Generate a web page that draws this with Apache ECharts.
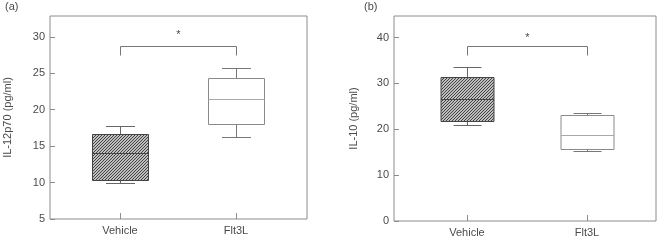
<!DOCTYPE html>
<html><head><meta charset="utf-8">
<script src="https://cdn.jsdelivr.net/npm/echarts@6/dist/echarts.min.js"></script>
<style>html,body{margin:0;padding:0;background:#fff}#c{width:661px;height:243px}</style>
</head><body><div id="c"></div>
<script>
// ---------- data ----------
const categories = ['Vehicle', 'Flt3L'];
// box stats: [min, Q1, median, Q3, max]
const il12Vehicle = [9.9, 10.4, 14.0, 16.7, 17.7];
const il12Flt3L   = [16.2, 18.0, 21.4, 24.3, 25.7];
const il10Vehicle = [21.0, 21.8, 26.7, 31.3, 33.6];
const il10Flt3L   = [15.2, 15.6, 18.8, 23.1, 23.6];
// y axis ranges and tick interval
const il12Range = [5, 32.85];
const il12Interval = 5;
const il10Range = [0, 44.7];
const il10Interval = 10;
// significance bracket: [leg bottom, bar, star]
const il12Bracket = [27.5, 28.8, 30.2];
const il10Bracket = [36.1, 38.2, 40.0];
const panelLabels = ['(a)', '(b)'];
const axisTitles = ['IL-12p70 (pg/ml)', 'IL-10 (pg/ml)'];

// ---------- styling ----------
const FONT = 'Liberation Sans, Arial, Helvetica, sans-serif';
const TXT = '#4a4a4a';
const FRAME = '#8c8c8c';

function makeHatch() {
  const n = 3;
  const cv = document.createElement('canvas');
  cv.width = n; cv.height = n;
  const ctx = cv.getContext('2d');
  ctx.fillStyle = '#f4f4f4';
  ctx.fillRect(0, 0, n, n);
  ctx.strokeStyle = '#3a3a3a';
  ctx.lineWidth = 1.1;
  ctx.beginPath();
  ctx.moveTo(-1, n + 1); ctx.lineTo(n + 1, -1);
  ctx.moveTo(-1, 1); ctx.lineTo(1, -1);
  ctx.moveTo(n - 1, n + 1); ctx.lineTo(n + 1, n - 1);
  ctx.stroke();
  return cv;
}
const hatch = makeHatch();

const boxStyles = [
  { fill: { image: hatch, repeat: 'repeat' }, stroke: '#444', median: '#444', whisker: '#666' },
  { fill: '#fff', stroke: '#8a8a8a', median: '#a8a8a8', whisker: '#777' }
];

function crisp(v) { return Math.round(v) + 0.5; }

function makeBoxRender(boxFrac) {
  return function (params, api) {
    const x = api.value(0);
    const mn = api.value(1), q1 = api.value(2), md = api.value(3), q3 = api.value(4), mx = api.value(5);
    const band = api.size([1, 0])[0];
    const bw = Math.round(band * boxFrac);
    const cw = Math.round(bw / 2);
    const cx = Math.round(api.coord([x, md])[0]);
    const Y = v => crisp(api.coord([x, v])[1]);
    const st = boxStyles[params.dataIndex];
    const yMn = Y(mn), yQ1 = Y(q1), yMd = Y(md), yQ3 = Y(q3), yMx = Y(mx);
    const L = cx - bw / 2, R = cx + bw / 2;
    const lineSt = { stroke: st.whisker, lineWidth: 1 };
    return {
      type: 'group',
      children: [
        { type: 'line', shape: { x1: cx + 0.5, y1: yMx, x2: cx + 0.5, y2: yQ3 }, style: lineSt },
        { type: 'line', shape: { x1: cx + 0.5, y1: yQ1, x2: cx + 0.5, y2: yMn }, style: lineSt },
        { type: 'line', shape: { x1: cx - cw / 2, y1: yMx, x2: cx + cw / 2 + 1, y2: yMx }, style: lineSt },
        { type: 'line', shape: { x1: cx - cw / 2, y1: yMn, x2: cx + cw / 2 + 1, y2: yMn }, style: lineSt },
        { type: 'rect', shape: { x: L + 0.5, y: yQ3, width: bw, height: yQ1 - yQ3 },
          style: { fill: st.fill, stroke: st.stroke, lineWidth: 1 } },
        { type: 'line', shape: { x1: L + 0.5, y1: yMd, x2: R + 0.5, y2: yMd },
          style: { stroke: st.median, lineWidth: 1 } }
      ]
    };
  };
}

function bracketRender(params, api) {
  const leg = api.value(2), bar = api.value(3), star = api.value(4);
  const p0 = api.coord([api.value(0), bar]);
  const p1 = api.coord([api.value(1), bar]);
  const yLeg = crisp(api.coord([api.value(0), leg])[1]);
  const yBar = crisp(p0[1]);
  const ys = api.coord([api.value(0), star])[1];
  const x0 = Math.round(p0[0]) + 0.5, x1 = Math.round(p1[0]) + 0.5;
  return {
    type: 'group',
    children: [
      { type: 'polyline', shape: { points: [[x0, yLeg], [x0, yBar], [x1, yBar], [x1, yLeg]] },
        style: { stroke: '#777', lineWidth: 1, fill: null } },
      { type: 'text', x: (x0 + x1) / 2, y: ys,
        style: { text: '*', fill: TXT, font: '11px ' + FONT, align: 'center', verticalAlign: 'middle' } }
    ]
  };
}

// panel geometry: frame rect, and data grid whose band centers match the reference
const panels = [
  { frame: { left: 50, top: 16, width: 257, height: 203 },
    data: { left: 62, top: 16, width: 232, height: 203 }, offset: 12, nameGap: 37,
    range: il12Range, interval: il12Interval, boxes: [il12Vehicle, il12Flt3L], bracket: il12Bracket, boxFrac: 0.483 },
  { frame: { left: 394, top: 16, width: 262, height: 205 },
    data: { left: 407, top: 16, width: 240, height: 205 }, offset: 13, nameGap: 35,
    range: il10Range, interval: il10Interval, boxes: [il10Vehicle, il10Flt3L], bracket: il10Bracket, boxFrac: 0.443 }
];

const grid = [], xAxis = [], yAxis = [], series = [], title = [];
panels.forEach((p, i) => {
  const gF = grid.length;
  grid.push(Object.assign({ show: true, borderColor: FRAME, borderWidth: 1, backgroundColor: 'transparent' }, p.frame));
  xAxis.push({ gridIndex: gF, type: 'value', show: false });
  yAxis.push({ gridIndex: gF, type: 'value', show: false });
  const gD = grid.length;
  grid.push(Object.assign({ show: false }, p.data));
  xAxis.push({
    gridIndex: gD, type: 'category', data: categories, boundaryGap: true,
    axisLine: { show: false },
    axisTick: { show: true, inside: true, length: 6, alignWithLabel: true, lineStyle: { color: FRAME } },
    axisLabel: { margin: 6, fontSize: 11, color: TXT, fontFamily: FONT },
    splitLine: { show: false }
  });
  yAxis.push({
    gridIndex: gD, type: 'value', min: p.range[0], max: p.range[1], interval: p.interval,
    offset: p.offset,
    axisLine: { show: false },
    axisTick: { show: true, inside: true, length: 5, lineStyle: { color: FRAME } },
    axisLabel: { margin: 5, fontSize: 11, color: TXT, fontFamily: FONT, showMaxLabel: false },
    splitLine: { show: false },
    name: axisTitles[i], nameLocation: 'middle', nameGap: p.nameGap,
    nameTextStyle: { fontSize: 11, color: TXT, fontFamily: FONT }
  });
  const xi = xAxis.length - 1, yi = yAxis.length - 1;
  series.push({
    type: 'custom', xAxisIndex: xi, yAxisIndex: yi,
    renderItem: makeBoxRender(p.boxFrac),
    encode: { x: 0, y: [1, 2, 3, 4, 5] },
    data: p.boxes.map((b, k) => [k].concat(b)),
    silent: true
  });
  series.push({
    type: 'custom', xAxisIndex: xi, yAxisIndex: yi,
    renderItem: bracketRender,
    encode: { x: [0, 1], y: [2, 3, 4] },
    data: [[0, 1].concat(p.bracket)],
    silent: true
  });
});
title.push({ text: panelLabels[0], left: 5, top: 1, textStyle: { fontSize: 11, fontWeight: 'normal', color: TXT, fontFamily: FONT }, padding: 0 });
title.push({ text: panelLabels[1], left: 364, top: 1, textStyle: { fontSize: 11, fontWeight: 'normal', color: TXT, fontFamily: FONT }, padding: 0 });

const chart = echarts.init(document.getElementById('c'), null, { renderer: 'canvas' });
chart.setOption({ animation: false, backgroundColor: '#fff', title, grid, xAxis, yAxis, series });
</script></body></html>
